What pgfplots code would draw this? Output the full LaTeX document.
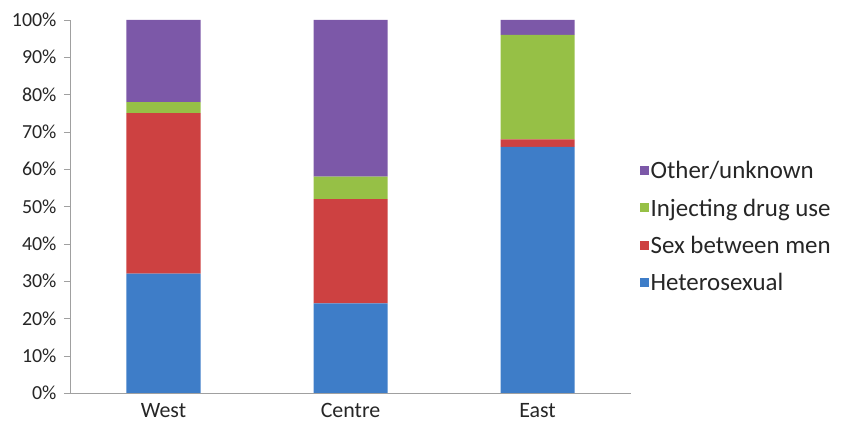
\documentclass[border=0pt]{standalone}
\usepackage{pgfplots}
\pgfplotsset{compat=1.18}
\usepackage{fontspec}
\setmainfont{Carlito}
\definecolor{cblue}{RGB}{62,125,200}
\definecolor{cred}{RGB}{205,65,65}
\definecolor{cgreen}{RGB}{150,192,70}
\definecolor{cpurple}{RGB}{124,88,168}
\definecolor{axgray}{RGB}{160,160,160}
\begin{document}
\begin{tikzpicture}[x=1bp,y=1bp]
\path[use as bounding box] (-70,-43) rectangle (781,393);
\begin{axis}[
  at={(0,0)}, anchor=south west,
  scale only axis, width=561bp, height=373bp,
  ybar stacked, bar width=74bp,
  xmin=-0.5, xmax=2.5, ymin=0, ymax=100,
  xtick=data, xticklabels={West,Centre,East},
  ytick={0,10,...,100},
  yticklabel={\pgfmathprintnumber{\tick}\%},
  /pgf/number format/assume math mode=true,
  axis x line*=bottom, axis y line*=left,
  axis line style={axgray, -},
  x axis line style={-}, y axis line style={-},
  xtick style={draw=none},
  ytick style={axgray},
  tick align=outside, major tick length=6bp,
  tick label style={font=\fontsize{20}{22}\selectfont, text=black!85},
  xticklabel style={font=\fontsize{22}{24}\selectfont, yshift=-1bp},
  yticklabel style={xshift=-4bp},
  legend style={draw=none, at={(1.015,0.445)}, anchor=west,
    font=\fontsize{25}{28}\selectfont, text=black!85, row sep=14.5bp,
    legend cell align=left, inner sep=0pt},
  legend image code/.code={\draw[#1, draw=none] (0bp,-4bp) rectangle (9bp,5bp);},
  reverse legend,
]
\addplot[fill=cblue, draw=none] coordinates {(0,32) (1,24) (2,66)};
\addplot[fill=cred, draw=none] coordinates {(0,43) (1,28) (2,2)};
\addplot[fill=cgreen, draw=none] coordinates {(0,3) (1,6) (2,28)};
\addplot[fill=cpurple, draw=none] coordinates {(0,22) (1,42) (2,4)};
\legend{Heterosexual,Sex between men,Injecting drug use,Other/unknown}
\end{axis}
\end{tikzpicture}
\end{document}
